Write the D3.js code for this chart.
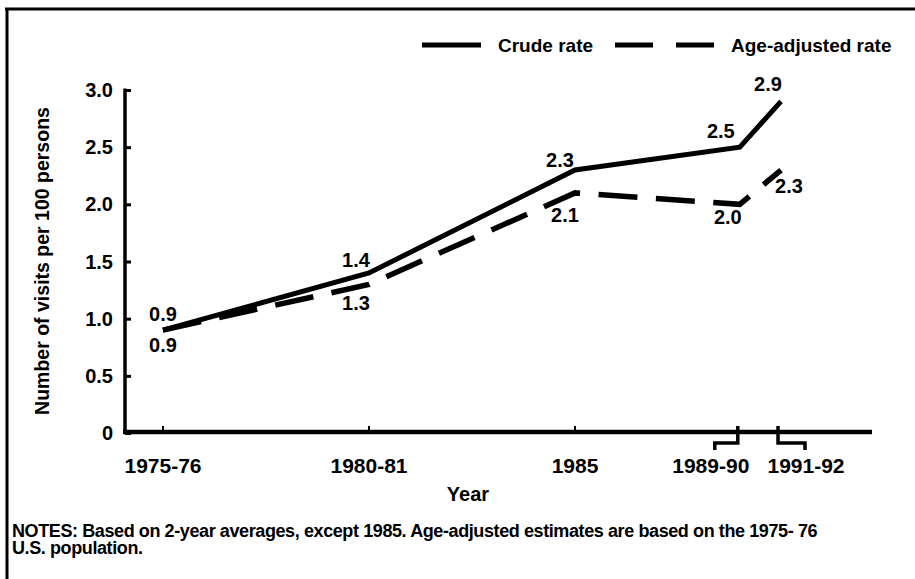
<!DOCTYPE html>
<html lang="en"><head><meta charset="UTF-8">
<title>Visits per 100 persons</title>
<script src="https://d3js.org/d3.v7.min.js"></script>
<style>
  body { margin: 0; background: #fff; }
  text { font-family: "Liberation Sans", Arial, Helvetica, sans-serif; font-weight: bold; fill: #000; }
</style>
</head>
<body>
<script>
// data
var periods = ["1975-76", "1980-81", "1985", "1989-90", "1991-92"];
var plotYears = [1975, 1980, 1985, 1989, 1990];   // where each period sits on the axis
var crude = [0.9, 1.4, 2.3, 2.5, 2.9];
var adjusted = [0.9, 1.3, 2.1, 2.0, 2.3];
var yTicks = [0, 0.5, 1.0, 1.5, 2.0, 2.5, 3.0];
var yTickLabels = ["0", "0.5", "1.0", "1.5", "2.0", "2.5", "3.0"];

var w = 915, h = 579;

var svg = d3.select("body").append("svg")
  .attr("width", w).attr("height", h);

// frame (only top and left show in the scan)
svg.append("line").attr("x1", 5).attr("x2", w).attr("y1", 9).attr("y2", 9)
  .attr("stroke", "#000").attr("stroke-width", 3);
svg.append("line").attr("x1", 7).attr("x2", 7).attr("y1", 8).attr("y2", h)
  .attr("stroke", "#000").attr("stroke-width", 3);

var x = d3.scaleLinear().domain([1975, 1985]).range([163, 575]);
var y = d3.scaleLinear().domain([0, 3]).range([433, 90]);

// y axis
var yAxis = svg.append("g").attr("transform", "translate(125,0)")
  .call(d3.axisRight(y).tickValues(yTicks).tickSize(6).tickFormat(""));
yAxis.select(".domain").remove();
yAxis.selectAll(".tick line").attr("stroke", "#000").attr("stroke-width", 3);
svg.append("line").attr("x1", 125).attr("x2", 125).attr("y1", 88.5).attr("y2", 434)
  .attr("stroke", "#000").attr("stroke-width", 3.5);

svg.selectAll(".ylab").data(yTicks).enter().append("text")
  .attr("class", "ylab")
  .attr("x", 113)
  .attr("y", function(d) { return y(d) + 7; })
  .attr("text-anchor", "end")
  .style("font-size", "20px")
  .text(function(d, i) { return yTickLabels[i]; });

// x axis
svg.append("line").attr("x1", 123).attr("x2", 872).attr("y1", 432).attr("y2", 432)
  .attr("stroke", "#000").attr("stroke-width", 4.5);

var simpleTicks = plotYears.slice(0, 3);
svg.selectAll(".xtick").data(simpleTicks).enter().append("line")
  .attr("x1", function(d) { return x(d); }).attr("x2", function(d) { return x(d); })
  .attr("y1", 426).attr("y2", 432)
  .attr("stroke", "#000").attr("stroke-width", 2);

// brackets for the two-year periods at the end
var b1 = x(plotYears[3]) - 2, b2 = x(plotYears[4]) - 3;
svg.append("path")
  .attr("d", "M" + b1 + ",426 V443 H" + (b1 - 23) + " V450")
  .attr("fill", "none").attr("stroke", "#000").attr("stroke-width", 3.5);
svg.append("path")
  .attr("d", "M" + b2 + ",426 V443 H" + (b2 + 27) + " V450")
  .attr("fill", "none").attr("stroke", "#000").attr("stroke-width", 3.5);

var labelX = [x(plotYears[0]), x(plotYears[1]), x(plotYears[2]), b1 - 27, b2 + 28];
svg.selectAll(".xlab").data(periods).enter().append("text")
  .attr("class", "xlab")
  .attr("x", function(d, i) { return labelX[i]; })
  .attr("y", 473)
  .attr("text-anchor", "middle")
  .style("font-size", "21px")
  .text(function(d) { return d; });

svg.append("text").attr("x", 468).attr("y", 501)
  .attr("text-anchor", "middle").style("font-size", "20px").text("Year");

svg.append("text")
  .attr("transform", "translate(49,261) rotate(-90)")
  .attr("text-anchor", "middle").style("font-size", "19.5px")
  .text("Number of visits per 100 persons");

// lines
var line = d3.line()
  .x(function(d, i) { return x(plotYears[i]); })
  .y(function(d) { return y(d); });

svg.append("path").datum(crude)
  .attr("d", line).attr("fill", "none")
  .attr("stroke", "#000").attr("stroke-width", 5);

svg.append("path").datum(adjusted)
  .attr("d", line).attr("fill", "none")
  .attr("stroke", "#000").attr("stroke-width", 5.5)
  .attr("stroke-dasharray", "39,18.5");

// value labels
var crudeOff = [[0, -9], [-13, -6], [-15, -3], [-19, -9], [-13, -10]];
var adjOff = [[0, 22], [-13, 26], [-10, 29], [-12, 20], [8, 23]];
svg.selectAll(".clab").data(crude).enter().append("text")
  .attr("x", function(d, i) { return x(plotYears[i]) + crudeOff[i][0]; })
  .attr("y", function(d, i) { return y(d) + crudeOff[i][1]; })
  .attr("text-anchor", "middle").style("font-size", "20px")
  .text(function(d) { return d.toFixed(1); });
svg.selectAll(".alab").data(adjusted).enter().append("text")
  .attr("x", function(d, i) { return x(plotYears[i]) + adjOff[i][0]; })
  .attr("y", function(d, i) { return y(d) + adjOff[i][1]; })
  .attr("text-anchor", "middle").style("font-size", "20px")
  .text(function(d) { return d.toFixed(1); });

// legend
var lg = svg.append("g").attr("transform", "translate(0,45)");
lg.append("line").attr("x1", 422).attr("x2", 481).attr("y1", 0).attr("y2", 0)
  .attr("stroke", "#000").attr("stroke-width", 5);
lg.append("text").attr("x", 498).attr("y", 7).style("font-size", "19px").text("Crude rate");
lg.append("line").attr("x1", 615).attr("x2", 718).attr("y1", 0).attr("y2", 0)
  .attr("stroke", "#000").attr("stroke-width", 5).attr("stroke-dasharray", "38,23");
lg.append("text").attr("x", 731).attr("y", 7).style("font-size", "19px").text("Age-adjusted rate");

// notes
var notes = svg.append("text").style("font-size", "18px").style("letter-spacing", "-0.4px");
notes.append("tspan").attr("x", 12).attr("y", 537)
  .text("NOTES: Based on 2-year averages, except 1985. Age-adjusted estimates are based on the 1975- 76");
notes.append("tspan").attr("x", 12).attr("y", 554).text("U.S. population.");
</script>
</body></html>
